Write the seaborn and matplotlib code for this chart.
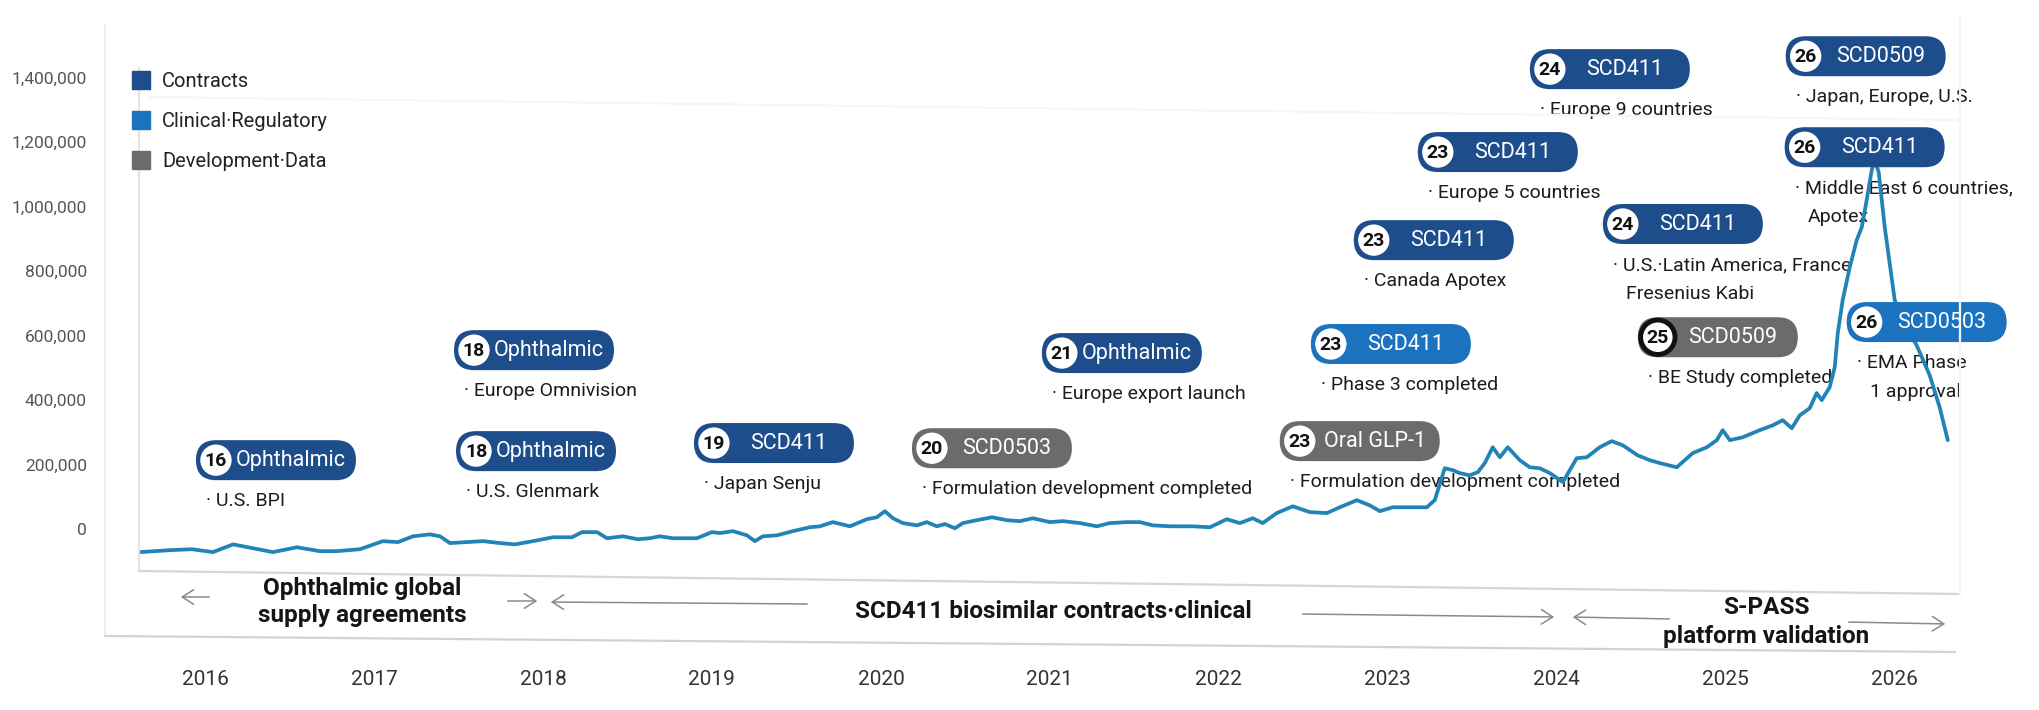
import numpy as np
import pandas as pd
import matplotlib
matplotlib.use("Agg")
import matplotlib.pyplot as plt
import matplotlib.transforms as mtransforms
from matplotlib.patches import FancyBboxPatch, Circle, FancyArrowPatch
from matplotlib.lines import Line2D
from matplotlib.ticker import FuncFormatter
import seaborn as sns

# ---------------- data ----------------
dates = [
    2015.615, 2015.793, 2015.923, 2016.047, 2016.166, 2016.284, 2016.402, 2016.544, 2016.680, 2016.781,
    2016.917, 2017.053, 2017.142, 2017.231, 2017.331, 2017.391, 2017.450, 2017.550, 2017.645, 2017.746,
    2017.834, 2017.941, 2018.059, 2018.172, 2018.231, 2018.320, 2018.379, 2018.473, 2018.562, 2018.633,
    2018.692, 2018.769, 2018.911, 2019.000, 2019.047, 2019.124, 2019.207, 2019.254, 2019.302, 2019.385,
    2019.479, 2019.580, 2019.639, 2019.716, 2019.817, 2019.917, 2019.976, 2020.024, 2020.071, 2020.130,
    2020.213, 2020.272, 2020.331, 2020.379, 2020.438, 2020.485, 2020.568, 2020.657, 2020.746, 2020.822,
    2020.899, 2021.000, 2021.077, 2021.178, 2021.278, 2021.355, 2021.456, 2021.533, 2021.609, 2021.710,
    2021.846, 2021.947, 2022.047, 2022.124, 2022.201, 2022.260, 2022.343, 2022.438, 2022.538, 2022.639,
    2022.716, 2022.817, 2022.893, 2022.953, 2023.030, 2023.130, 2023.231, 2023.278, 2023.337, 2023.385,
    2023.426, 2023.485, 2023.533, 2023.574, 2023.621, 2023.663, 2023.710, 2023.781, 2023.840, 2023.899,
    2023.959, 2024.036, 2024.118, 2024.178, 2024.254, 2024.325, 2024.391, 2024.479, 2024.550, 2024.609,
    2024.710, 2024.805, 2024.888, 2024.947, 2024.982, 2025.024, 2025.101, 2025.201, 2025.278, 2025.337,
    2025.391, 2025.438, 2025.497, 2025.538, 2025.568, 2025.615, 2025.645, 2025.663, 2025.692, 2025.734,
    2025.775, 2025.805, 2025.834, 2025.864, 2025.882, 2025.905, 2025.941, 2025.970, 2026.000, 2026.059,
    2026.130, 2026.207, 2026.266, 2026.314,
]
values = [
    -71000, -65000, -62000, -71000, -47000, -59000, -71000, -56000, -68000, -68000,
    -62000, -37000, -40000, -22000, -16000, -22000, -43000, -40000, -37000, -43000,
    -47000, -37000, -25000, -25000, -9000, -9000, -28000, -22000, -31000, -28000,
    -22000, -28000, -28000, -9000, -12000, -6000, -19000, -37000, -22000, -19000,
    -6000, 6000, 9000, 22000, 9000, 31000, 37000, 56000, 34000, 19000,
    12000, 22000, 9000, 16000, 3000, 19000, 28000, 37000, 28000, 25000,
    34000, 22000, 25000, 19000, 9000, 19000, 22000, 22000, 12000, 9000,
    9000, 6000, 31000, 19000, 34000, 19000, 50000, 71000, 53000, 50000,
    68000, 90000, 74000, 56000, 68000, 68000, 68000, 90000, 189000, 183000,
    174000, 167000, 177000, 205000, 254000, 223000, 254000, 214000, 192000, 189000,
    174000, 146000, 220000, 223000, 254000, 273000, 260000, 229000, 214000, 205000,
    192000, 236000, 254000, 276000, 307000, 276000, 285000, 307000, 322000, 338000,
    313000, 353000, 375000, 422000, 400000, 440000, 502000, 608000, 710000, 812000,
    896000, 936000, 1020000, 1113000, 1144000, 1107000, 936000, 825000, 710000, 632000,
    570000, 477000, 378000, 276000,
]

year_ticks = list(range(2016, 2027))
value_ticks = list(range(0, 1400001, 200000))

categories = ["Contracts", "Clinical·Regulatory", "Development·Data"]
category_colors = ["#1e4d8c", "#1b73bf", "#6b6b6b"]

# milestones: year badge, program, category, note lines
event_years = ["16", "18", "18", "19", "20", "21", "23", "23",
               "23", "23", "24", "24", "25", "26", "26", "26"]
event_programs = ["Ophthalmic", "Ophthalmic", "Ophthalmic", "SCD411", "SCD0503", "Ophthalmic",
                  "SCD411", "Oral GLP-1", "SCD411", "SCD411", "SCD411", "SCD411",
                  "SCD0509", "SCD0509", "SCD411", "SCD0503"]
event_categories = ["Contracts", "Contracts", "Contracts", "Contracts", "Development·Data",
                    "Contracts", "Clinical·Regulatory", "Development·Data", "Contracts",
                    "Contracts", "Contracts", "Contracts", "Development·Data", "Contracts",
                    "Contracts", "Clinical·Regulatory"]
event_notes = [
    ["U.S. BPI"],
    ["Europe Omnivision"],
    ["U.S. Glenmark"],
    ["Japan Senju"],
    ["Formulation development completed"],
    ["Europe export launch"],
    ["Phase 3 completed"],
    ["Formulation development completed"],
    ["Canada Apotex"],
    ["Europe 5 countries"],
    ["Europe 9 countries"],
    ["U.S.·Latin America, France", "Fresenius Kabi"],
    ["BE Study completed"],
    ["Japan, Europe, U.S."],
    ["Middle East 6 countries,", "Apotex"],
    ["EMA Phase", "1 approval"],
]
# badge anchors on the chart's own scales (time, value)
event_x = [2016.065, 2017.592, 2017.604, 2019.012, 2020.302, 2021.071, 2022.663, 2022.479,
           2022.917, 2023.296, 2023.959, 2024.391, 2024.598, 2025.473, 2025.467, 2025.834]
event_y = [214000, 555000, 242000, 267000, 251000, 546000, 574000, 273000,
           896000, 1169000, 1426000, 946000, 595000, 1466000, 1184000, 642000]

# bottom band: program phases
phase_titles = ["Ophthalmic global\nsupply agreements",
                "SCD411 biosimilar contracts·clinical",
                "S-PASS\nplatform validation"]

# ---------------- style ----------------
sns.set_theme(style="white")
plt.rcParams["font.family"] = ["Roboto", "DejaVu Sans"]

W, H = 2039, 710
fig = plt.figure(figsize=(W / 100, H / 100), dpi=100)
fig.patch.set_facecolor("white")

ax_l, ax_r, ax_t, ax_b = 103.6, 2013.0, 13.0, 626.0
ax = fig.add_axes([ax_l / W, 1 - ax_b / H, (ax_r - ax_l) / W, (ax_b - ax_t) / H])
ax.set_facecolor("none")

LINE = "#2284b6"
df = pd.DataFrame({"date": dates, "value": values})
sns.lineplot(data=df, x="date", y="value", ax=ax, color=LINE, linewidth=2.7,
             estimator=None, sort=False, zorder=4)

ax.set_xlim(2015.4, 2026.7)
ax.set_ylim(-300000, 1600000)
ax.set_autoscale_on(False)
ax.set_xticks(year_ticks)
ax.set_xticklabels([str(y) for y in year_ticks])
ax.set_yticks(value_ticks)
ax.yaxis.set_major_formatter(FuncFormatter(lambda v, p: f"{v:,.0f}"))
ax.set_xlabel("")
ax.set_ylabel("")
sns.despine(ax=ax, left=True, bottom=True)
ax.grid(False)
ax.tick_params(axis="both", length=0)
ax.tick_params(axis="x", pad=32, labelsize=15, labelcolor="#333333")
ax.tick_params(axis="y", pad=12, labelsize=12.5, labelcolor="#555555")


def fpx(x, y):
    return (x / W, 1 - y / H)


# light page frame lines
frame = [
    ((105, 25), (105, 636), "#efefef"),
    ((105, 636), (1955, 652), "#d2d2d2"),
    ((139, 68), (139, 571), "#e4e4e4"),
    ((139, 571), (1960, 594), "#d6d6d6"),
    ((1960, 15), (1960, 594), "#f5f5f5"),
    ((150, 97), (1960, 120), "#f6f6f6"),
]
for (x0, y0), (x1, y1), c in frame:
    (fx0, fy0), (fx1, fy1) = fpx(x0, y0), fpx(x1, y1)
    fig.add_artist(Line2D([fx0, fx1], [fy0, fy1], color=c, lw=1.6, zorder=1))

# phase arrows
arrows = [((212, 597), (178, 597)), ((505, 601), (540, 601)), ((810, 604), (548, 602)),
          ((1300, 614), (1557, 617)), ((1672, 619), (1570, 617)), ((1846, 622), (1948, 624))]
for a, b in arrows:
    fig.add_artist(FancyArrowPatch(fpx(*a), fpx(*b), transform=fig.transFigure,
                                   arrowstyle="->,head_length=0.55,head_width=0.35",
                                   mutation_scale=15, color="#8a8a8a", lw=1.1, zorder=2))

phase_pos = [(362, 602), (1053, 611), (1766, 622)]
phase_spacing = [1.2, 1.2, 1.3]
for title, (x, y), ls in zip(phase_titles, phase_pos, phase_spacing):
    fig.text(*fpx(x, y), title, ha="center", va="center", fontsize=17.5, fontweight="bold",
             color="#151515", linespacing=ls)

# legend
handles = [Line2D([], [], ls="none", marker="s", markersize=12.5, mfc=c, mec=c)
           for c in category_colors]
fig.legend(handles, categories, loc="upper left", bbox_to_anchor=fpx(131, 72),
           frameon=False, fontsize=14.5, handlelength=0.95, handletextpad=0.6,
           labelspacing=1.05, borderpad=0, borderaxespad=0, labelcolor="#222222")

# milestone badges
color_of = dict(zip(categories, category_colors))
for num, prog, cat, notes, xd, yd in zip(event_years, event_programs, event_categories,
                                          event_notes, event_x, event_y):
    col = color_of[cat]
    tr = fig.dpi_scale_trans + mtransforms.ScaledTranslation(xd, yd, ax.transData)
    pill = FancyBboxPatch((-0.20, -0.20), 1.60, 0.40,
                          boxstyle="round,pad=0,rounding_size=0.20",
                          fc=col, ec="none", transform=tr, zorder=6, clip_on=False)
    ax.add_artist(pill)
    ring_col = "#111111" if num == "25" else col
    ring_lw = 3.5 if num == "25" else 2.2
    ax.add_artist(Circle((0, 0), 0.172, fc="white", ec=ring_col, lw=ring_lw,
                         transform=tr, zorder=7, clip_on=False))
    ax.text(0, -0.005, num, transform=tr, ha="center", va="center", fontsize=14,
            fontweight="bold", color="#111111", zorder=8, clip_on=False)
    ax.text(0.75, -0.005, prog, transform=tr, ha="center", va="center", fontsize=15.5,
            color="white", zorder=8, clip_on=False)
    for i, line in enumerate(notes):
        if i == 0:
            ax.text(-0.10, -0.41, "· " + line, transform=tr, ha="left", va="center",
                    fontsize=14, color="#1c1c1c", zorder=3, clip_on=False)
        else:
            ax.text(0.03, -0.41 - 0.29 * i, line, transform=tr, ha="left", va="center",
                    fontsize=14, color="#1c1c1c", zorder=3, clip_on=False)

fig.savefig("out.png", dpi=100, facecolor="white")
